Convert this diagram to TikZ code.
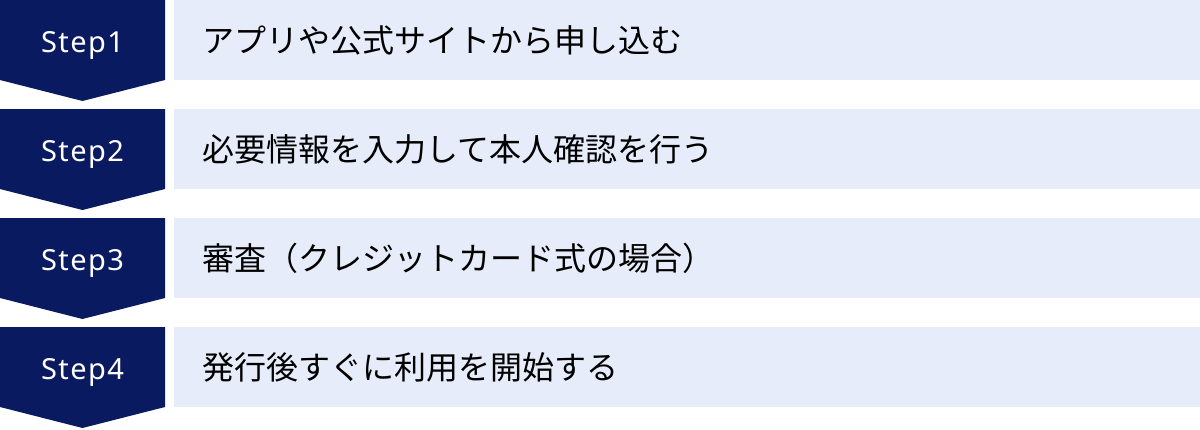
\documentclass[tikz,border=0pt]{standalone}
\usepackage{fontspec}
\setmainfont{Noto Sans CJK JP}
\newfontfamily\steplatin[LetterSpace=5]{Noto Sans}
\usepackage{tikz}
\definecolor{navy}{HTML}{0A1A60}
\definecolor{paleblue}{HTML}{E6ECF9}
\begin{document}
\begin{tikzpicture}
[x=1pt,y=-1pt]
\tikzstyle{stepfont}=[text=white,font=\steplatin\fontsize{29}{35}\selectfont]
\tikzstyle{plain}=[fill=paleblue,anchor=north west,minimum width=1026pt,minimum height=80pt,
  text width=970pt,inner xsep=28pt,inner ysep=0pt,align=left,font=\fontsize{32}{38}\selectfont]

\useasboundingbox (0,0) rectangle (1200,429);
\foreach \i/\what in {1/アプリや公式サイトから申し込む,
                      2/必要情報を入力して本人確認を行う,
                      3/審査（クレジットカード式の場合）,
                      4/発行後すぐに利用を開始する}{
  \pgfmathsetmacro\rowtop{(\i-1)*109}
  \fill[navy] (0,\rowtop) -- ++(165,0) -- ++(0,80) -- ++(-82.5,21) -- ++(-82.5,-21) -- cycle;
  \node[stepfont,anchor=base] (step\i) at (82.5,\rowtop+52) {Step\i};
  \node[plain] (box\i) at (174,\rowtop) {\what};
}

\end{tikzpicture}
\end{document}
